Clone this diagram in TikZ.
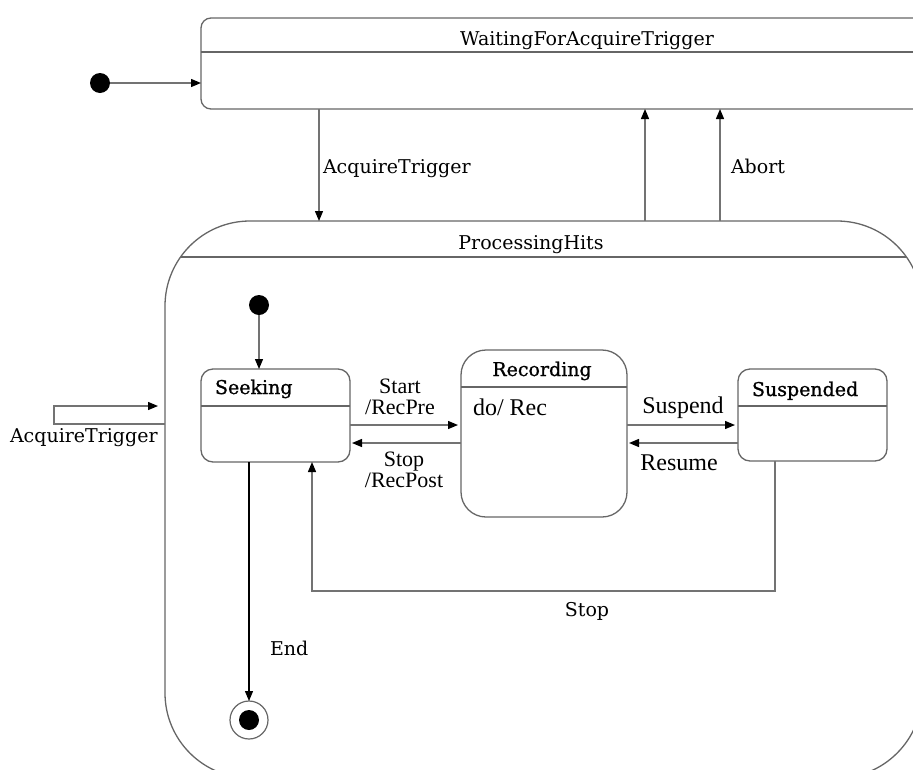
\documentclass[tikz,border=0pt]{standalone}
\usepackage{fontspec}
\setmainfont{DejaVu Serif}
\newfontfamily\labelfont{Liberation Serif}
\newfontfamily\titlefont[FakeBold=1]{DejaVu Serif}
\usetikzlibrary{arrows.meta}

\begin{document}
\begin{tikzpicture}[x=1pt,y=-1pt,
  every node/.style={inner sep=0pt, outer sep=0pt},
  edgeline/.style={draw=black!55, line width=1.3pt},
  flow/.style={edgeline, -{Triangle[length=10pt,width=8pt,color=black]}},
  statebox/.style={draw=black!60, line width=1.3pt},
  slab/.style={font=\fontsize{19}{22}\selectfont, anchor=base},
  plain/.style={font=\labelfont\fontsize{24}{26}\selectfont, anchor=base},
  twoline/.style={font=\labelfont\fontsize{22}{20.5}\selectfont, align=center, anchor=center},
  titletext/.style={font=\titlefont\fontsize{19}{22}\selectfont, anchor=base},
  dot/.style={circle, fill=black, minimum size=20pt},
]
\useasboundingbox (0,0) rectangle (913,769);

% ---------- states ----------
\node[statebox, rounded corners=10pt, minimum width=772, minimum height=91] (wait) at (587,63.5) {};
\node[statebox, rounded corners=85pt, minimum width=757, minimum height=557] (proc) at (543.5,499.5) {};
\node[statebox, rounded corners=12pt, minimum width=149, minimum height=93] (seek) at (275.5,415.5) {};
\node[statebox, rounded corners=25pt, minimum width=166, minimum height=167] (rec) at (544,433.5) {};
\node[statebox, rounded corners=12pt, minimum width=149, minimum height=92] (susp) at (812.5,415) {};

% compartment dividers
\coordinate (waitdiv) at (0,52);
\coordinate (procdiv) at (0,257);
\coordinate (seekdiv) at (0,406);
\coordinate (recdiv)  at (0,387);
\coordinate (suspdiv) at (0,406);
\draw[statebox] (waitdiv -| wait.west) -- (waitdiv -| wait.east);
\begin{scope}
  \clip[rounded corners=85pt] (proc.north west) rectangle (proc.south east);
  \draw[statebox] (procdiv -| proc.west) -- (procdiv -| proc.east);
\end{scope}
\draw[statebox] (seekdiv -| seek.west) -- (seekdiv -| seek.east);
\draw[statebox] (recdiv -| rec.west) -- (recdiv -| rec.east);
\draw[statebox] (suspdiv -| susp.west) -- (suspdiv -| susp.east);

% pseudo states
\node[dot] (init0) at (100,83) {};
\node[dot] (init1) at (259,305) {};
\node[circle, draw=black!60, line width=1.2pt, minimum size=38pt] (final) at (249,720) {};
\node[dot] (finaldot) at (final.center) {};

% ---------- titles and labels ----------
\node[slab] (waittitle) at (587,45) {WaitingForAcquireTrigger};
\node[slab] (proctitle) at (531,249) {ProcessingHits};
\node[titletext, anchor=base west] (seektitle) at (215,394) {Seeking};
\node[titletext] (rectitle) at (542,376) {Recording};
\node[titletext, anchor=base west] (susptitle) at (752,396) {Suspended};
\node[plain, anchor=base west] (recdo) at (473,415) {do/ Rec};

\node[slab, anchor=base west] (lblacq) at (323,173) {AcquireTrigger};
\node[slab, anchor=base west] (lblabort) at (731,173) {Abort};
\node[slab, anchor=base west] (lblself) at (10,442) {AcquireTrigger};
\node[twoline] (lblstart) at (400,397) {Start\\/RecPre};
\node[twoline] (lblstop) at (404,470) {Stop\\/RecPost};
\node[plain] (lblsuspend) at (683,413) {Suspend};
\node[plain] (lblresume) at (679,470) {Resume};
\node[slab] (lblstop2) at (587,616) {Stop};
\node[slab, anchor=base west] (lblend) at (270,655) {End};

% ---------- transitions ----------
\coordinate (acqx) at (319,0);
\coordinate (upa) at (645,0);
\coordinate (upb) at (720,0);
\draw[flow] (init0) -- (init0 -| wait.west);
\draw[flow] (wait.south -| acqx) -- (proc.north -| acqx);
\draw[flow] (proc.north -| upa) -- (wait.south -| upa);
\draw[flow] (proc.north -| upb) -- (wait.south -| upb);

% self transition on the composite state
\coordinate (selfa) at (54,424);
\coordinate (selfb) at (54,406);
\draw[flow, shorten >=7pt] (proc.west |- selfa) -- (selfa) -- (selfb) -- (proc.west |- selfb);

\draw[flow] (init1) -- (init1 |- seek.north);

\coordinate (fwd) at (0,425);
\coordinate (back) at (0,443);
\draw[flow, shorten >=3pt] (seek.east |- fwd) -- (rec.west |- fwd);
\draw[flow, shorten >=2pt] (rec.west |- back) -- (seek.east |- back);
\draw[flow, shorten >=3pt] (rec.east |- fwd) -- (susp.west |- fwd);
\draw[flow, shorten >=2pt] (susp.west |- back) -- (rec.east |- back);

% Suspended back to Seeking
\coordinate (loopr) at (775,591);
\coordinate (loopl) at (312,591);
\draw[flow] (susp.south -| loopr) -- (loopr) -- (loopl) -- (seek.south -| loopl);

% Seeking to final state
\draw[flow, draw=black] (seek.south -| final.north) -- (final.north);
\end{tikzpicture}
\end{document}
